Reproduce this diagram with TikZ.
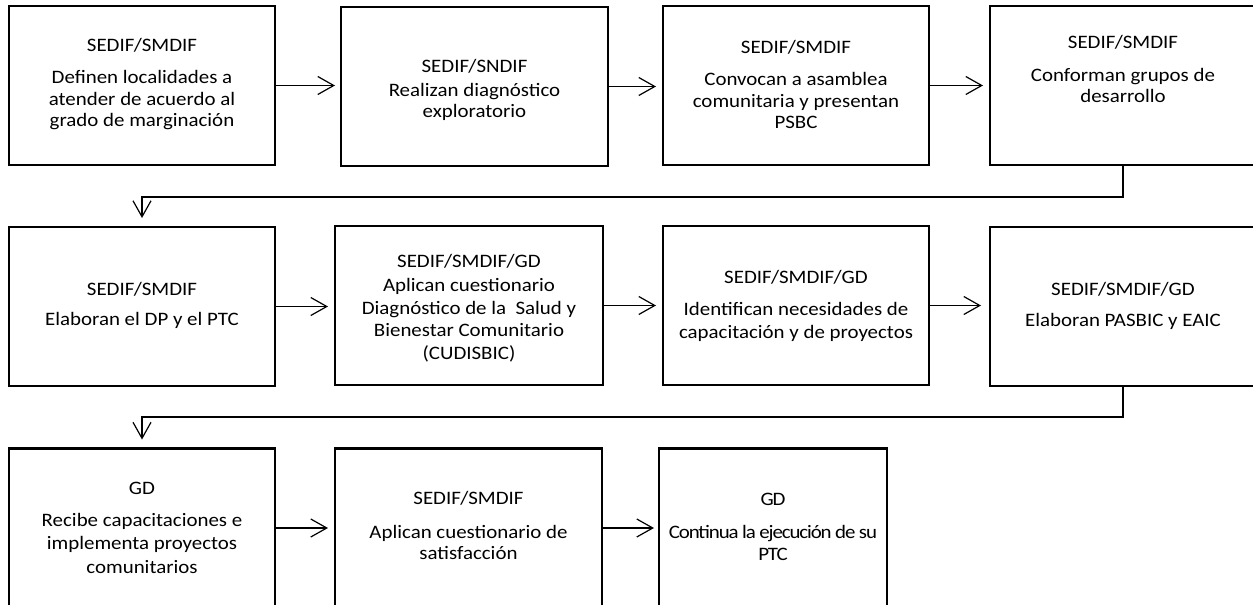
\documentclass[tikz,border=0pt]{standalone}
\usepackage{fontspec}
\setmainfont{Carlito}[FakeStretch=1.1]
\usetikzlibrary{arrows.meta}
\tikzset{
  box/.style={draw=black, line width=2.4pt, inner sep=0pt, outer sep=0pt,
    minimum width=266pt, minimum height=159pt},
  txt/.style={align=center, inner sep=0pt, text=black},
  arr/.style={line width=1.2pt, draw=black,
    -{Straight Barb[length=16pt, width=18pt, line width=1.2pt]}},
}
\begin{document}
\begin{tikzpicture}[x=1pt, y=-1pt]
\useasboundingbox (0,0) rectangle (1253,605);
\clip (0,0) rectangle (1253,605);
\fill[white] (0,0) rectangle (1253,605);
% boxes
\node[box] (b1) at (142,85.5) {};
\node[box, minimum width=267pt] (b2) at (474.5,86.5) {};
\node[box] (b3) at (796,85.5) {};
\node[box] (b4) at (1123,85.5) {};
\node[box] (b5) at (142,306.5) {};
\node[box, minimum width=268pt] (b6) at (469,305.5) {};
\node[box] (b7) at (796,305.5) {};
\node[box] (b8) at (1123,306.5) {};
\node[box] (b9) at (142,528) {};
\node[box, minimum width=267pt] (b10) at (468.5,528) {};
\node[box, minimum width=228pt] (b11) at (773,528) {};
% texts
\node[txt, font=\fontsize{19}{21.5}\selectfont] (t1) at (142,84.5)
  {SEDIF/SMDIF\\[10.5pt]Definen localidades a\\atender de acuerdo al\\grado de marginación};
\node[txt, font=\fontsize{19}{21}\selectfont] (t2) at (474.5,89.5)
  {SEDIF/SNDIF\\[3pt]Realizan diagnóstico\\exploratorio};
\node[txt, font=\fontsize{19}{21.5}\selectfont] (t3) at (796,84.5)
  {SEDIF/SMDIF\\[10.5pt]Convocan a asamblea\\comunitaria y presentan\\PSBC};
\node[txt, font=\fontsize{19}{21}\selectfont] (t4) at (1123,69)
  {SEDIF/SMDIF\\[12pt]Conforman grupos de\\desarrollo};
\node[txt, font=\fontsize{19}{30}\selectfont] (t5) at (142,305.5)
  {SEDIF/SMDIF\\Elaboran el DP y el PTC};
\node[txt, font=\fontsize{19}{22.5}\selectfont] (t6) at (469,308)
  {SEDIF/SMDIF/GD\\[1.5pt]Aplican cuestionario\\Diagnóstico de la\ \ Salud y\\Bienestar Comunitario\\(CUDISBIC)};
\node[txt, font=\fontsize{19}{23}\selectfont] (t7) at (796,305.5)
  {SEDIF/SMDIF/GD\\[9pt]Identifican necesidades de\\capacitación y de proyectos};
\node[txt, font=\fontsize{19}{31}\selectfont] (t8) at (1123,306)
  {SEDIF/SMDIF/GD\\Elaboran PASBIC y EAIC};
\node[txt, font=\fontsize{19}{23.5}\selectfont] (t9) at (142,527.5)
  {GD\\[8.5pt]Recibe capacitaciones e\\implementa proyectos\\comunitarios};
\node[txt, font=\fontsize{19}{21.5}\selectfont] (t10) at (468.5,525.5)
  {SEDIF/SMDIF\\[12.5pt]Aplican cuestionario de\\satisfacción};
\node[txt, font=\fontsize{19}{22}\selectfont\addfontfeature{LetterSpace=-6}] (t11) at (773,527)
  {GD\\[11pt]Continua la ejecución de su\\PTC};
% connectors
\draw[arr] (b1.east) -- ([xshift=-6pt]b1.east -| b2.west);
\draw[arr] (b2.east) -- ([xshift=-7pt]b2.east -| b3.west);
\draw[arr] (b3.east) -- ([xshift=-7pt]b3.east -| b4.west);
\draw[arr] (b4.south) -- ++(0,32) -| ([yshift=9pt]b5.north);
\draw[arr] (b5.east) -- ([xshift=-7pt]b5.east -| b6.west);
\draw[arr] (b6.east) -- ([xshift=-7pt]b6.east -| b7.west);
\draw[arr] (b7.east) -- ([xshift=-9pt]b7.east -| b8.west);
\draw[arr] (b8.south) -- ++(0,31) -| ([yshift=9pt]b9.north);
\draw[arr] (b9.east) -- ([xshift=-7pt]b9.east -| b10.west);
\draw[arr] (b10.east) -- ([xshift=-5pt]b10.east -| b11.west);
\end{tikzpicture}
\end{document}
